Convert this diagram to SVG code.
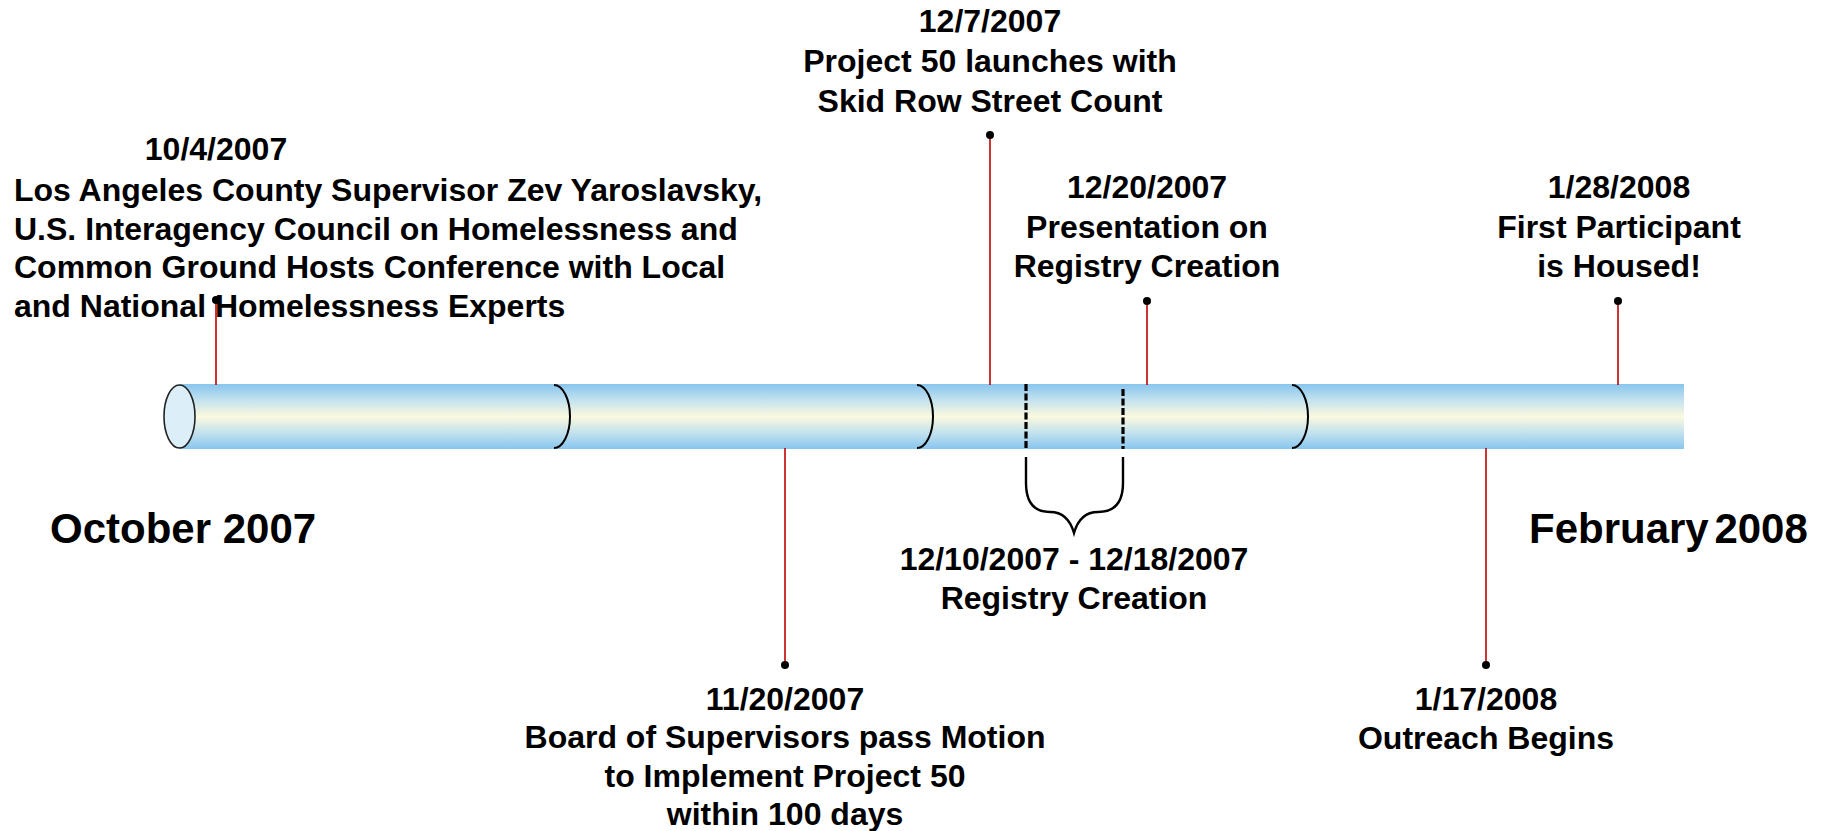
<svg xmlns="http://www.w3.org/2000/svg" width="1822" height="831" viewBox="0 0 1822 831">
<style>
  text { font-family: "Liberation Sans", Arial, sans-serif; font-weight: bold; font-size: 32px; fill: #000; }
  .c { text-anchor: middle; }
  .big { font-size: 42px; }
  .stem { stroke: #C00000; stroke-width: 1.6; fill: none; }
  .dot { fill: #000; }
  .sep { stroke: #000; stroke-width: 2; fill: none; }
  .dash { stroke: #000; stroke-width: 3.2; stroke-dasharray: 7 2.5; fill: none; }
</style>
<defs>
  <linearGradient id="tubeGrad" x1="0" y1="0" x2="0" y2="1">
    <stop offset="0" stop-color="#88C5EE"/>
    <stop offset="0.25" stop-color="#C3E2EE"/>
    <stop offset="0.5" stop-color="#FBF9DF"/>
    <stop offset="0.75" stop-color="#C3E2EE"/>
    <stop offset="1" stop-color="#88C5EE"/>
  </linearGradient>
</defs>
<rect width="1822" height="831" fill="#FFFFFF"/>

<g id="tube">
  <rect x="179.5" y="384" width="1504.5" height="65" fill="url(#tubeGrad)"/>
  <ellipse cx="179.5" cy="416.5" rx="15.5" ry="31.5" fill="#DCEEF8" stroke="#222" stroke-width="1.6"/>
  <path class="sep" d="M554,385 A16,31.5 0 0 1 554,448"/>
  <path class="sep" d="M917,385 A16,31.5 0 0 1 917,448"/>
  <path class="sep" d="M1292,385 A16,31.5 0 0 1 1292,448"/>
  <line class="dash" x1="1026" y1="384" x2="1026" y2="449"/>
  <line class="dash" x1="1123" y1="389" x2="1123" y2="449"/>
  <path d="M1026,457 V483 Q1026,512 1050,512 Q1068,512 1074,533 Q1080,512 1098,512 Q1123,512 1123,483 V457" fill="none" stroke="#000" stroke-width="2.4"/>
</g>

<g id="connectors">
  <line class="stem" x1="216" y1="300" x2="216" y2="385"/>
  <line class="stem" x1="990" y1="135" x2="990" y2="385"/>
  <line class="stem" x1="1147" y1="301" x2="1147" y2="385"/>
  <line class="stem" x1="1618" y1="301" x2="1618" y2="385"/>
  <line class="stem" x1="785" y1="448" x2="785" y2="665"/>
  <line class="stem" x1="1486" y1="448" x2="1486" y2="665"/>
  <circle class="dot" cx="216" cy="300" r="4"/>
  <circle class="dot" cx="990" cy="135" r="4"/>
  <circle class="dot" cx="1147" cy="301" r="4"/>
  <circle class="dot" cx="1618" cy="301" r="4"/>
  <circle class="dot" cx="785" cy="665" r="4"/>
  <circle class="dot" cx="1486" cy="665" r="4"/>
</g>

<g id="event-2007-10-04">
  <text x="216" y="160" class="c">10/4/2007</text>
  <text x="14" y="201">Los Angeles County Supervisor Zev Yaroslavsky,</text>
  <text x="14" y="240">U.S. Interagency Council on Homelessness and</text>
  <text x="14" y="278">Common Ground Hosts Conference with Local</text>
  <text x="14" y="317">and National Homelessness Experts</text>
</g>

<g id="event-2007-12-07">
  <text x="990" y="32" class="c">12/7/2007</text>
  <text x="990" y="72" class="c">Project 50 launches with</text>
  <text x="990" y="112" class="c">Skid Row Street Count</text>
</g>

<g id="event-2007-12-20">
  <text x="1147" y="198" class="c">12/20/2007</text>
  <text x="1147" y="238" class="c">Presentation on</text>
  <text x="1147" y="277" class="c">Registry Creation</text>
</g>

<g id="event-2008-01-28">
  <text x="1619" y="198" class="c">1/28/2008</text>
  <text x="1619" y="238" class="c">First Participant</text>
  <text x="1619" y="277" class="c">is Housed!</text>
</g>

<g id="event-2007-11-20">
  <text x="785" y="710" class="c">11/20/2007</text>
  <text x="785" y="748" class="c">Board of Supervisors pass Motion</text>
  <text x="785" y="787" class="c">to Implement Project 50</text>
  <text x="785" y="825" class="c">within 100 days</text>
</g>

<g id="event-registry">
  <text x="1074" y="570" class="c">12/10/2007 - 12/18/2007</text>
  <text x="1074" y="609" class="c">Registry Creation</text>
</g>

<g id="event-2008-01-17">
  <text x="1486" y="710" class="c">1/17/2008</text>
  <text x="1486" y="749" class="c">Outreach Begins</text>
</g>

<g id="start-label">
  <text x="50" y="543" class="big">October 2007</text>
</g>
<g id="end-label">
  <text x="1529" y="543" class="big" word-spacing="-6">February 2008</text>
</g>
</svg>
